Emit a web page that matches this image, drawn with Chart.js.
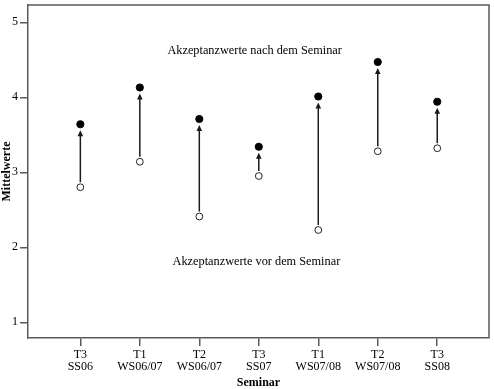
<!DOCTYPE html>
<html>
<head>
<meta charset="utf-8">
<script src="https://cdn.jsdelivr.net/npm/chart.js@4"></script>
<style>
  html, body { margin: 0; padding: 0; background: #fff; }
  #wrap { width: 494px; height: 389px; }
</style>
</head>
<body>
<div id="wrap"><canvas id="c"></canvas></div>
<script>
// ─── data
const seminarTypes = ['T3', 'T1', 'T2', 'T3', 'T1', 'T2', 'T3'];
const semesters = ['SS06', 'WS06/07', 'WS06/07', 'SS07', 'WS07/08', 'WS07/08', 'SS08'];
const valuesBefore = [2.80, 3.14, 2.41, 2.95, 2.23, 3.28, 3.32];
const valuesAfter = [3.64, 4.13, 3.71, 3.34, 4.01, 4.47, 3.94];
const yTicks = [1, 2, 3, 4, 5];
const labelAfter = 'Akzeptanzwerte nach dem Seminar';
const labelBefore = 'Akzeptanzwerte vor dem Seminar';

const FONT = '"Liberation Serif", "DejaVu Serif", serif';
const AXIS_GREY = '#5a5a5a';

const positions = semesters.map((_, i) => i + 1);
const afterPoints = positions.map((x, i) => ({ x, y: valuesAfter[i] }));
const beforePoints = positions.map((x, i) => ({ x, y: valuesBefore[i] }));

// arrows from "before" to "after" plus the two text labels, plus the frame
const arrowPlugin = {
  id: 'arrows',
  afterDatasetsDraw(chart) {
    const { ctx, scales: { x, y }, chartArea } = chart;
    ctx.save();
    ctx.strokeStyle = '#1a1a1a';
    ctx.fillStyle = '#1a1a1a';
    ctx.lineWidth = 1.5;
    positions.forEach((pos, i) => {
      const px = x.getPixelForValue(pos);
      const y0 = y.getPixelForValue(valuesBefore[i]) - 5;
      const y1 = y.getPixelForValue(valuesAfter[i]) + 6;
      ctx.beginPath();
      ctx.moveTo(px, y0);
      ctx.lineTo(px, y1 + 4);
      ctx.stroke();
      ctx.beginPath();
      ctx.moveTo(px, y1);
      ctx.lineTo(px - 2.8, y1 + 6);
      ctx.lineTo(px + 2.8, y1 + 6);
      ctx.closePath();
      ctx.fill();
    });

    ctx.fillStyle = '#000';
    ctx.font = '12.3px ' + FONT;
    ctx.textAlign = 'center';
    ctx.textBaseline = 'middle';
    ctx.fillText(labelAfter, x.getPixelForValue(3.93), y.getPixelForValue(4.62));
    ctx.fillText(labelBefore, x.getPixelForValue(3.96), y.getPixelForValue(1.80));

    // top and right edges of the frame
    ctx.strokeStyle = AXIS_GREY;
    ctx.lineWidth = 1.5;
    ctx.beginPath();
    ctx.moveTo(chartArea.left, chartArea.top);
    ctx.lineTo(chartArea.right, chartArea.top);
    ctx.lineTo(chartArea.right, chartArea.bottom);
    ctx.stroke();
    ctx.restore();
  }
};

new Chart(document.getElementById('c'), {
  type: 'scatter',
  data: {
    datasets: [
      {
        label: 'nach',
        data: afterPoints,
        pointRadius: 3.6,
        pointBackgroundColor: '#000',
        pointBorderColor: '#000',
        pointBorderWidth: 1
      },
      {
        label: 'vor',
        data: beforePoints,
        pointRadius: 3.4,
        pointBackgroundColor: '#fff',
        pointBorderColor: '#222',
        pointBorderWidth: 1
      }
    ]
  },
  options: {
    responsive: true,
    maintainAspectRatio: false,
    animation: false,
    layout: { padding: { top: -3, right: 2, left: 0, bottom: 0 } },
    plugins: { legend: { display: false }, tooltip: { enabled: false } },
    scales: {
      x: {
        type: 'linear',
        min: 0.12,
        max: 7.87,
        afterBuildTicks(scale) { scale.ticks = positions.map(v => ({ value: v })); },
        afterFit(scale) {
          scale.height = 51;
          scale.paddingLeft = 0;
          scale.paddingRight = 0;
        },
        grid: { drawOnChartArea: false, color: AXIS_GREY, tickLength: 8, lineWidth: 1.5 },
        border: { display: true, color: AXIS_GREY, width: 1.5 },
        ticks: {
          autoSkip: false,
          maxRotation: 0,
          padding: 3,
          color: '#000',
          font: { family: FONT, size: 12, lineHeight: 1.0 },
          callback: (v) => [seminarTypes[v - 1], semesters[v - 1]]
        },
        title: {
          display: true,
          text: 'Seminar',
          color: '#000',
          font: { family: FONT, size: 12, weight: 'bold', lineHeight: 1.0 },
          padding: { top: 1, bottom: 0 }
        }
      },
      y: {
        min: 0.79,
        max: 5.23,
        afterBuildTicks(scale) { scale.ticks = yTicks.map(v => ({ value: v })); },
        afterFit(scale) {
          scale.width = 28;
          scale.paddingTop = 0;
          scale.paddingBottom = 0;
        },
        grid: { drawOnChartArea: false, color: AXIS_GREY, tickLength: 8, lineWidth: 1.5 },
        border: { display: true, color: AXIS_GREY, width: 1.5 },
        ticks: {
          padding: 2,
          color: '#000',
          font: { family: FONT, size: 12 }
        },
        title: {
          display: true,
          text: 'Mittelwerte',
          color: '#000',
          font: { family: FONT, size: 12, weight: 'bold' },
          padding: { top: 0, bottom: 0 }
        }
      }
    }
  },
  plugins: [arrowPlugin]
});
</script>
</body>
</html>
